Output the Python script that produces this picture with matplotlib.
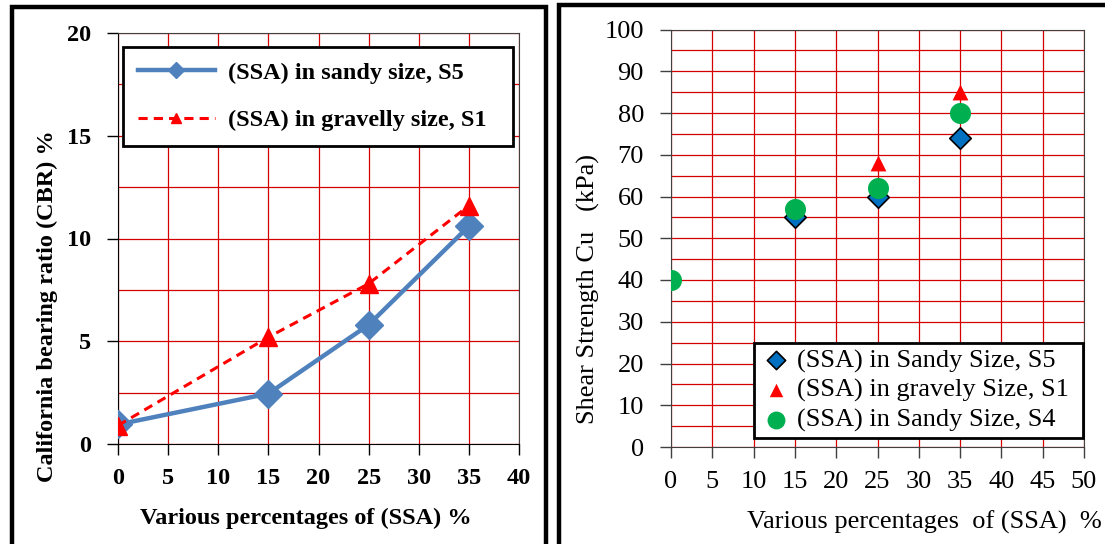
import matplotlib
matplotlib.use('Agg')
import matplotlib.pyplot as plt
from matplotlib.patches import Rectangle
from matplotlib.ticker import MultipleLocator

plt.rcParams['font.family'] = ['Liberation Serif', 'DejaVu Serif']

# Left panel: CBR
cbr_x = [0, 15, 25, 35]
cbr_sandy_s5 = [0.95, 2.45, 5.8, 10.6]
cbr_gravelly_s1 = [0.9, 5.2, 7.8, 11.6]

# Right panel: shear strength
cu_s5_x = [15, 25, 35]
cu_sandy_s5 = [55, 60, 74]
cu_s1_x = [25, 35]
cu_gravelly_s1 = [68, 85]
cu_s4_x = [0, 15, 25, 35]
cu_sandy_s4 = [40, 57, 62, 80]

GRID_RED = '#D40000'
SPINE = '#404040'
FS_L = 17.5
FS_R = 19

fig = plt.figure(figsize=(11.05, 5.44), dpi=100)
W, H = 1105, 544

def px_axes(x0, y0, x1, y1):
    return fig.add_axes([x0 / W, 1 - y1 / H, (x1 - x0) / W, (y1 - y0) / H])

# ---- left chart ----
ax1 = px_axes(118, 33, 519, 444)
ax1.plot(cbr_x, cbr_sandy_s5, color='#4F81BD', lw=3.2, marker='D', ms=14,
         label='(SSA) in sandy size, S5', zorder=3)
ax1.plot(cbr_x, cbr_gravelly_s1, color='#FF0000', lw=2.2, ls=(0, (3, 2)), marker='^', ms=13,
         label='(SSA) in gravelly size, S1', zorder=4)
ax1.set_xlim(0, 40)
ax1.set_ylim(0, 20)
ax1.xaxis.set_major_locator(MultipleLocator(5))
ax1.yaxis.set_major_locator(MultipleLocator(5))
ax1.yaxis.set_minor_locator(MultipleLocator(2.5))
ax1.grid(which='both', color=GRID_RED, lw=0.9)
ax1.set_axisbelow(True)
ax1.tick_params(which='major', direction='out', length=8, width=1, color='black',
                labelsize=FS_L)
ax1.tick_params(axis='y', pad=11)
ax1.tick_params(axis='x', pad=9)
ax1.tick_params(which='minor', length=0)
for lab in ax1.get_xticklabels() + ax1.get_yticklabels():
    lab.set_fontweight('bold')
for s in ax1.spines.values():
    s.set_color(SPINE)
ax1.spines['left'].set_color('black')
ax1.spines['bottom'].set_color('black')
ax1.set_xlabel('Various percentages of (SSA) %', fontsize=FS_L, fontweight='bold')
ax1.set_ylabel('California bearing ratio (CBR) %', fontsize=FS_L, fontweight='bold')
ax1.xaxis.set_label_coords(0.469, -0.155)
ax1.yaxis.set_label_coords(-0.15, 0.336)
leg1 = ax1.legend(loc='upper left', bbox_to_anchor=((123 - 118) / 401, (444 - 144) / 411,
                  (513 - 123) / 401, (144 - 47) / 411), mode='expand',
                  prop={'weight': 'bold', 'size': FS_L}, handlelength=3.2, labelspacing=1.05,
                  borderpad=0.6, fancybox=False, framealpha=1, edgecolor='black',
                  borderaxespad=0, handletextpad=0.5, markerscale=0.6)
leg1.get_frame().set_linewidth(2)

# ---- right chart ----
ax2 = px_axes(671, 29.5, 1084, 447)
ax2.scatter(cu_s5_x, cu_sandy_s5, marker='D', s=120, color='#0070C0', edgecolor='black',
            lw=1.2, label='(SSA) in Sandy Size, S5', zorder=3)
ax2.scatter(cu_s1_x, cu_gravelly_s1, marker='^', s=130, color='#FF0000', lw=0,
            label='(SSA) in gravely Size, S1', zorder=3)
ax2.scatter(cu_s4_x, cu_sandy_s4, marker='o', s=230, color='#00B050', lw=0,
            label='(SSA) in Sandy Size, S4', zorder=4)
ax2.set_xlim(0, 50)
ax2.set_ylim(0, 100)
ax2.xaxis.set_major_locator(MultipleLocator(5))
ax2.yaxis.set_major_locator(MultipleLocator(10))
ax2.yaxis.set_minor_locator(MultipleLocator(5))
ax2.grid(which='both', color=GRID_RED, lw=0.9)
ax2.set_axisbelow(True)
ax2.tick_params(which='major', direction='out', length=8, width=1, color=SPINE,
                labelsize=FS_R)
ax2.tick_params(axis='y', pad=11.5)
ax2.tick_params(axis='x', pad=9)
ax2.tick_params(which='minor', length=0)
for s in ax2.spines.values():
    s.set_color(SPINE)
ax2.set_xlabel('Various percentages  of (SSA)  %', fontsize=FS_R)
ax2.set_ylabel('Shear Strength Cu   (kPa)', fontsize=FS_R)
ax2.xaxis.set_label_coords(0.613, -0.152)
ax2.yaxis.set_label_coords(-0.172, 0.378)
leg2 = ax2.legend(loc='upper left', bbox_to_anchor=((754 - 671) / 413, (447 - 438) / 417.5,
                  (1083 - 754) / 413, (438 - 343) / 417.5), mode='expand',
                  prop={'size': FS_R}, fancybox=False, framealpha=1, edgecolor='black',
                  borderaxespad=0, handletextpad=0.2, labelspacing=0.22, borderpad=0.22,
                  handlelength=1.2, scatterpoints=1, markerscale=0.85)
leg2.get_frame().set_linewidth(2)

# panel frames
fig.add_artist(Rectangle((12 / W, -0.05), (546 - 12) / W, 1.05 - 7 / H,
                         transform=fig.transFigure, fill=False, lw=3.2, ec='black'))
fig.add_artist(Rectangle((559 / W, -0.05), 0.6, 1.05 - 4.5 / H,
                         transform=fig.transFigure, fill=False, lw=3.2, ec='black'))

fig.savefig('out.png', dpi=100)
